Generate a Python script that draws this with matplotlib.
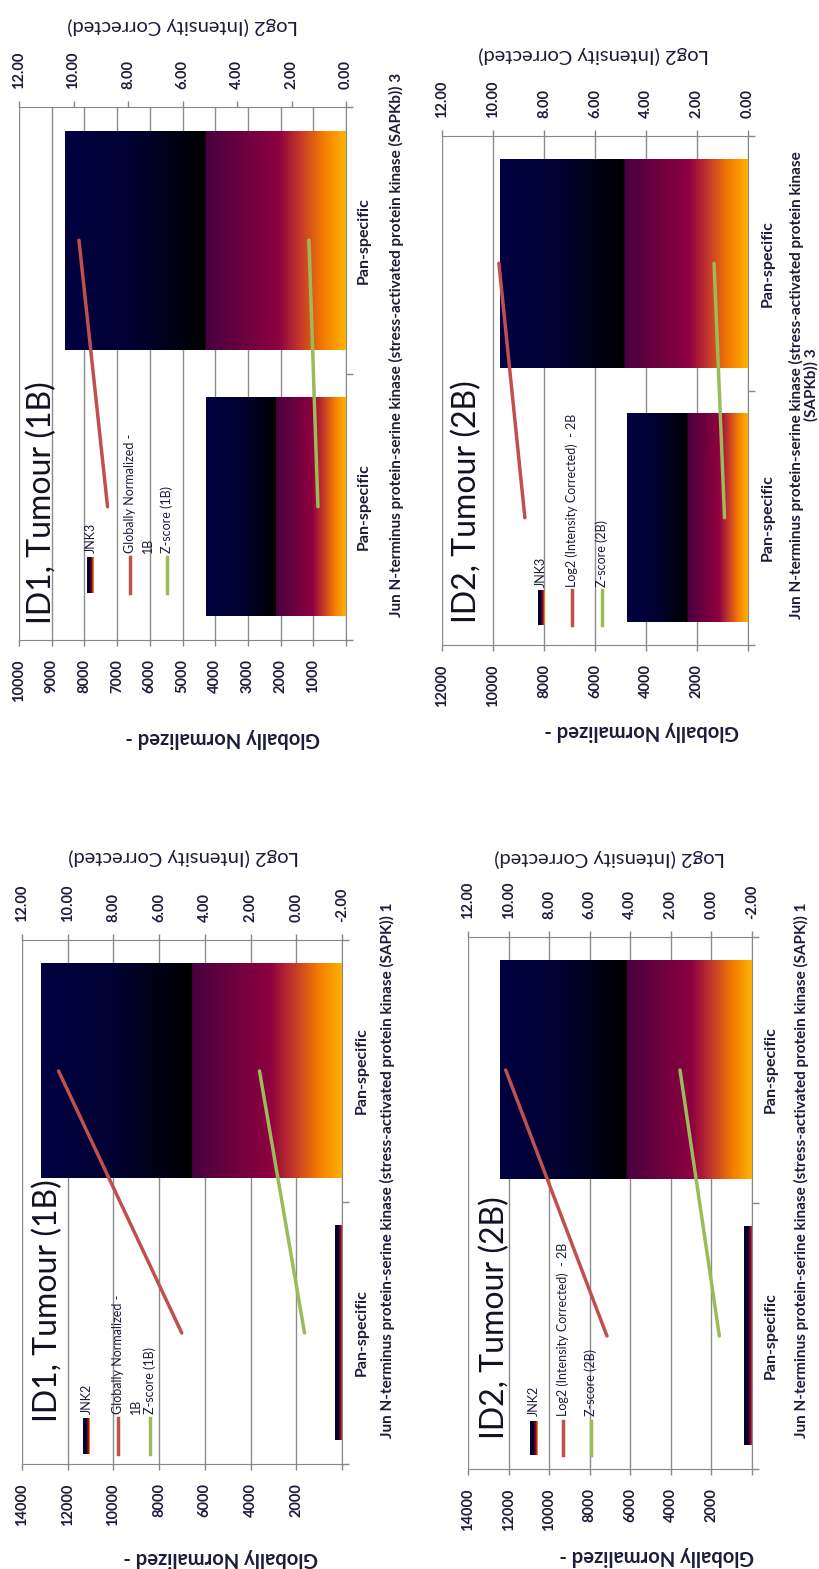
import numpy as np
import matplotlib.pyplot as plt
from matplotlib.colors import LinearSegmentedColormap
from matplotlib.lines import Line2D
from matplotlib.ticker import FuncFormatter, MultipleLocator
from matplotlib import transforms

plt.rcParams['font.family'] = ['Lato', 'DejaVu Sans']
plt.rcParams['font.weight'] = 'bold'

# ---- data ----
categories = ["Pan-specific", "Pan-specific"]
panel_titles = ["ID1, Tumour (1B)", "ID2, Tumour (2B)", "ID1, Tumour (1B)", "ID2, Tumour (2B)"]
bar_names = ["JNK3", "JNK3", "JNK2", "JNK2"]
red_names = ["Globally Normalized -\n1B", "Log2 (Intensity Corrected)  - 2B",
             "Globally Normalized -\n1B", "Log2 (Intensity Corrected)  - 2B"]
green_names = ["Z-score (1B)", "Z-score (2B)", "Z-score (1B)", "Z-score (2B)"]
group_labels = [
    "Jun N-terminus protein-serine kinase (stress-activated protein kinase (SAPKb)) 3",
    "Jun N-terminus protein-serine kinase (stress-activated protein kinase\n(SAPKb)) 3",
    "Jun N-terminus protein-serine kinase (stress-activated protein kinase (SAPK)) 1",
    "Jun N-terminus protein-serine kinase (stress-activated protein kinase (SAPK)) 1",
]

# globally normalized bars (primary axis)
bars_id1_jnk3 = [4270, 8590]
bars_id2_jnk3 = [4740, 9730]
bars_id1_jnk2 = [320, 13170]
bars_id2_jnk2 = [400, 12440]

# red lines (secondary axis)
red_id1_jnk3 = [8.75, 9.80]
red_id2_jnk3 = [8.75, 9.77]
red_id1_jnk2 = [5.01, 10.40]
red_id2_jnk2 = [5.15, 10.14]

# z-score lines (secondary axis)
green_id1_jnk3 = [1.03, 1.36]
green_id2_jnk3 = [0.92, 1.33]
green_id1_jnk2 = [-0.36, 1.61]
green_id2_jnk2 = [-0.39, 1.55]

# axis ranges
primary_max = [10000, 12000, 14000, 14000]
primary_step = [1000, 2000, 2000, 2000]
secondary_min = [0, 0, -2, -2]
secondary_max = [12, 12, 12, 12]

bar_values = [bars_id1_jnk3, bars_id2_jnk3, bars_id1_jnk2, bars_id2_jnk2]
red_values = [red_id1_jnk3, red_id2_jnk3, red_id1_jnk2, red_id2_jnk2]
green_values = [green_id1_jnk3, green_id2_jnk3, green_id1_jnk2, green_id2_jnk2]

# ---- layout (pixels, origin top-left) ----
W, H = 820, 1569
layouts = [
    dict(box=(19, 107, 346, 640), title=(42, 503), leg_x=(91, 130, 167), leg_y=(557, 593), leg_text_y=553,
         cat_x=364, group=(396, 345), log2=(183, 26), glob=(223, 738)),
    dict(box=(442, 136, 748, 645), title=(467, 502), leg_x=(541, 572, 602), leg_y=(590, 625), leg_text_y=587,
         cat_x=768, group=(804, 385), log2=(594, 55), glob=(642, 731)),
    dict(box=(22, 940, 342, 1464), title=(48, 1301), leg_x=(87, 118, 150), leg_y=(1418, 1454), leg_text_y=1414,
         cat_x=362, group=(387, 1170), log2=(184, 857), glob=(221, 1558)),
    dict(box=(468, 937, 752, 1469), title=(495, 1318), leg_x=(534, 563, 591), leg_y=(1421, 1455), leg_text_y=1416,
         cat_x=771, group=(801, 1170), log2=(610, 858), glob=(657, 1556)),
]

dark = '#1c1c3a'
axis_grey = '#878787'
red = '#C0504D'
green = '#9BBB59'

# gradient fill used by the bars (amber at the base, navy at the end)
fire = LinearSegmentedColormap.from_list("fire", [
    (0.0, "#FFB400"), (0.08, "#F37C00"), (0.16, "#C53A2A"), (0.24, "#8E0040"),
    (0.499, "#48003F"), (0.501, "#000000"), (0.75, "#000030"), (1.0, "#000042")], N=512)
grad = np.linspace(0, 1, 512).reshape(1, -1)


def fx(x):
    return x / W


def fy(y):
    return 1 - y / H


fig = plt.figure(figsize=(8.2, 15.69), dpi=100)

for k in range(4):
    L = layouts[k]
    x0, y0, x1, y1 = L['box']
    ax = fig.add_axes([fx(x0), fy(y1), (x1 - x0) / W, (y1 - y0) / H])
    ypos = np.arange(len(categories))

    # bars, then paint the gradient inside each one
    bars = ax.barh(ypos, bar_values[k], height=0.82, color='none', zorder=2)
    for r in bars:
        ax.imshow(grad, cmap=fire, aspect='auto', interpolation='bilinear', zorder=2,
                  extent=[r.get_x(), r.get_x() + r.get_width(), r.get_y(), r.get_y() + r.get_height()])

    ax.set_xlim(primary_max[k], 0)
    ax.set_ylim(-0.5, len(categories) - 0.5)
    ax.xaxis.set_major_locator(MultipleLocator(primary_step[k]))
    ax.xaxis.set_major_formatter(FuncFormatter(lambda v, p: '' if v == 0 else f'{v:.0f}'))
    ax.grid(axis='x', color='#8c8c8c', lw=1)
    ax.set_axisbelow(True)
    ax.tick_params(axis='x', direction='out', length=4, width=1, color=axis_grey, pad=10,
                   labelrotation=90, labelsize=10.5, labelcolor=dark)

    # category axis on the right
    ax.yaxis.tick_right()
    ax.set_yticks([-0.5, 0.5, 1.5])
    ax.set_yticklabels([])
    ax.tick_params(axis='y', direction='out', length=5, width=1, color=axis_grey)
    ax.spines['left'].set_visible(False)
    ax.spines['top'].set_visible(False)
    ax.spines['bottom'].set_color(axis_grey)
    ax.spines['right'].set_color(axis_grey)

    # secondary axis at the top with the lines
    ax2 = ax.twiny()
    ax2.plot(red_values[k], ypos, color=red, lw=2.5, solid_capstyle='round', zorder=3)
    ax2.plot(green_values[k], ypos, color=green, lw=2.5, solid_capstyle='round', zorder=3)
    ax2.set_xlim(secondary_max[k], secondary_min[k])
    ax2.xaxis.set_major_locator(MultipleLocator(2))
    ax2.xaxis.set_major_formatter(FuncFormatter(lambda v, p: f'{v:.2f}'))
    ax2.tick_params(axis='x', direction='out', length=4, width=1, color=axis_grey, pad=9,
                    labelrotation=90, labelsize=10.5, labelcolor=dark)
    for s in ['left', 'right', 'bottom']:
        ax2.spines[s].set_visible(False)
    ax2.spines['top'].set_color(axis_grey)

    # category labels
    blend = transforms.blended_transform_factory(fig.transFigure, ax.transData)
    for i, c in enumerate(categories):
        ax.text(fx(L['cat_x']), i, c, transform=blend, rotation=90, ha='center', va='center',
                fontsize=11.5, color=dark, clip_on=False)
    gx, gy = L['group']
    fig.text(fx(gx), fy(gy), group_labels[k], rotation=90, ha='center', va='center',
             fontsize=11, color=dark, multialignment='center', linespacing=1.05)

    # axis titles (upside down, as in the page)
    lx, ly = L['log2']
    fig.text(fx(lx), fy(ly), "Log2 (Intensity Corrected)", rotation=180, ha='center', va='center',
             fontsize=14.5, weight='normal', color=dark)
    gx, gy = L['glob']
    fig.text(fx(gx), fy(gy), "Globally Normalized -", rotation=180, ha='center', va='center',
             fontsize=14.5, color=dark)

    # chart title
    tx, ty = L['title']
    fig.text(fx(tx), fy(ty), panel_titles[k], rotation=90, ha='center', va='center',
             fontsize=23, weight='normal', color='#111122')

    # legend
    sx, rx, gxl = L['leg_x']
    ly0, ly1 = L['leg_y']
    sw = fig.add_axes([fx(sx - 3.5), fy(ly1), 7 / W, (ly1 - ly0) / H])
    sw.imshow(grad[:, ::-1], cmap=fire, aspect='auto', interpolation='bilinear')
    sw.axis('off')
    fig.add_artist(Line2D([fx(rx), fx(rx)], [fy(ly0), fy(ly1)], color=red, lw=2.5,
                          transform=fig.transFigure))
    fig.add_artist(Line2D([fx(gxl), fx(gxl)], [fy(ly0), fy(ly1)], color=green, lw=2.5,
                          transform=fig.transFigure))
    ty0 = L['leg_text_y']
    fig.text(fx(sx), fy(ty0), bar_names[k], rotation=90, ha='center', va='bottom',
             fontsize=9, weight='normal', color=dark)
    for j, line in enumerate(red_names[k].split('\n')):
        fig.text(fx(rx + 18 * j), fy(ty0), line, rotation=90, ha='center', va='bottom',
                 fontsize=9, weight='normal', color=dark)
    fig.text(fx(gxl), fy(ty0), green_names[k], rotation=90, ha='center', va='bottom',
             fontsize=9, weight='normal', color=dark)

fig.savefig('out.png', dpi=100, facecolor='white')
